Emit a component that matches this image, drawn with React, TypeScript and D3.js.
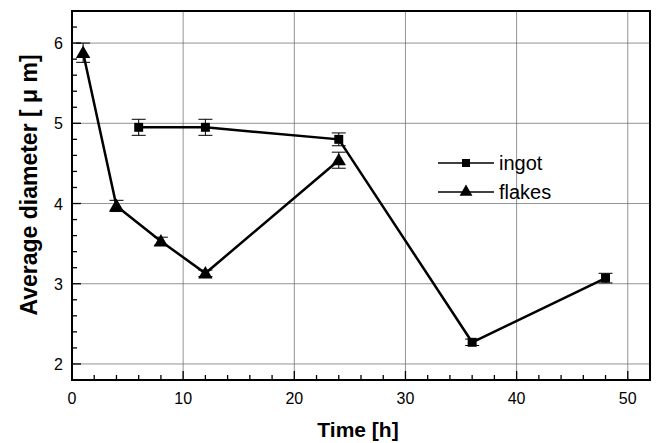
import * as d3 from "d3";

const ingotTime = [6, 12, 24, 36, 48];
const ingotDiameter = [4.95, 4.95, 4.8, 2.27, 3.07];
const ingotError = [0.1, 0.1, 0.08, 0.04, 0.06];

const flakesTime = [1, 4, 8, 12, 24];
const flakesDiameter = [5.88, 3.97, 3.53, 3.13, 4.54];
const flakesError = [0.12, 0.07, 0.05, 0.04, 0.1];

const xTicks = [0, 10, 20, 30, 40, 50];
const yTicks = [2, 3, 4, 5, 6];

const WIDTH = 660;
const HEIGHT = 443;
const M = { left: 72, top: 11, right: 10, bottom: 63 };

export default function App() {
  const x = d3.scaleLinear().domain([0, 52]).range([M.left, WIDTH - M.right]);
  const y = d3.scaleLinear().domain([1.8, 6.4]).range([HEIGHT - M.bottom, M.top]);

  const xMinor = d3.range(0, 52.01, 2);
  const yMinor = d3.range(1.8, 6.41, 0.2);

  const series = [
    { name: "ingot", t: ingotTime, v: ingotDiameter, e: ingotError, shape: d3.symbolSquare, size: 80 },
    { name: "flakes", t: flakesTime, v: flakesDiameter, e: flakesError, shape: d3.symbolTriangle, size: 90 },
  ];

  const x0 = M.left, x1 = WIDTH - M.right, y0 = HEIGHT - M.bottom, y1 = M.top;

  return (
    <svg width={WIDTH} height={HEIGHT} style={{ position: "absolute", left: 0, top: 0, background: "#fff" }} fontFamily="Arial, 'Liberation Sans', sans-serif">
      {/* grid */}
      {xTicks.map((t) => (
        <line key={"gx" + t} x1={x(t)} x2={x(t)} y1={y1} y2={y0} stroke="#666" strokeWidth={0.7} />
      ))}
      {yTicks.map((t) => (
        <line key={"gy" + t} x1={x0} x2={x1} y1={y(t)} y2={y(t)} stroke="#666" strokeWidth={0.7} />
      ))}
      {/* ticks, pointing inward */}
      {xMinor.map((t) => (
        <line key={"mx" + t} x1={x(t)} x2={x(t)} y1={y0} y2={y0 - (t % 10 === 0 ? 9 : 5)} stroke="#000" strokeWidth={1.3} />
      ))}
      {yMinor.map((t) => {
        const major = Math.abs(t - Math.round(t)) < 0.01;
        return <line key={"my" + t} x1={x0} x2={x0 + (major ? 9 : 5)} y1={y(t)} y2={y(t)} stroke="#000" strokeWidth={1.3} />;
      })}
      {/* frame */}
      <rect x={x0} y={y1} width={x1 - x0} height={y0 - y1} fill="none" stroke="#000" strokeWidth={2} />
      {/* tick labels */}
      {xTicks.map((t) => (
        <text key={"lx" + t} x={x(t)} y={y0 + 24} textAnchor="middle" fontSize={16}>{t}</text>
      ))}
      {yTicks.map((t) => (
        <text key={"ly" + t} x={x0 - 9} y={y(t) + 6} textAnchor="end" fontSize={16}>{t}</text>
      ))}
      {/* axis titles */}
      <text x={358} y={437} textAnchor="middle" fontSize={21} fontWeight="bold">Time [h]</text>
      <text transform={`translate(37, 185) rotate(-90)`} textAnchor="middle" fontSize={23} fontWeight="bold">Average diameter [ μ m]</text>
      {/* series */}
      {series.map((s) => {
        const pts: [number, number][] = s.t.map((t, i) => [x(t), y(s.v[i])]);
        const path = d3.line()(pts) ?? "";
        const sym = d3.symbol(s.shape, s.size)() ?? "";
        return (
          <g key={s.name}>
            <path d={path} fill="none" stroke="#000" strokeWidth={2.5} />
            {s.t.map((t, i) => {
              const cx = x(t);
              const hi = y(s.v[i] + s.e[i]);
              const lo = y(s.v[i] - s.e[i]);
              return (
                <g key={i}>
                  <line x1={cx} x2={cx} y1={hi} y2={lo} stroke="#000" strokeWidth={1} />
                  <line x1={cx - 7} x2={cx + 7} y1={hi} y2={hi} stroke="#000" strokeWidth={1} />
                  <line x1={cx - 7} x2={cx + 7} y1={lo} y2={lo} stroke="#000" strokeWidth={1} />
                  <path d={sym} transform={`translate(${cx},${y(s.v[i]) + (s.shape === d3.symbolTriangle ? 1 : 0)})`} fill="#000" />
                </g>
              );
            })}
          </g>
        );
      })}
      {/* legend */}
      {series.map((s, i) => {
        const ly = 163 + i * 29;
        const sym = d3.symbol(s.shape, s.size * 0.8)() ?? "";
        return (
          <g key={"leg" + s.name}>
            <line x1={438} x2={494} y1={ly} y2={ly} stroke="#000" strokeWidth={1.3} />
            <path d={sym} transform={`translate(466,${ly})`} fill="#000" />
            <text x={499} y={ly + 7} fontSize={20}>{s.name}</text>
          </g>
        );
      })}
    </svg>
  );
}
